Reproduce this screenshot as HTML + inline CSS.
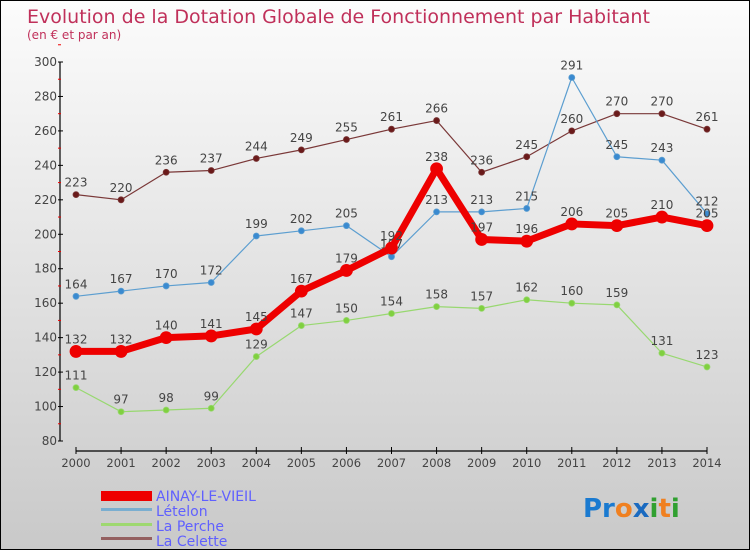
<!DOCTYPE html>
<html><head><meta charset="utf-8"><style>
body{margin:0}
#c{width:748px;height:548px;border:1px solid #000;background:linear-gradient(#fcfcfc,#c9c9c9);position:relative;font-family:"DejaVu Sans","Liberation Sans",sans-serif;overflow:hidden}
svg text{font-family:"DejaVu Sans","Liberation Sans",sans-serif}
</style></head><body>
<div id="c">
<svg id="s" width="748" height="548">
<text x="26" y="22" font-size="19" fill="#c0305a">Evolution de la Dotation Globale de Fonctionnement par Habitant</text>
<text x="26" y="38" font-size="12" fill="#c0305a">(en € et par an)</text>
<g id="axes"></g><g id="series"></g>
<g>
<rect x="100" y="490" width="51" height="10" fill="#e00"/>
<text x="155" y="500" font-size="14" fill="#6060ff">AINAY-LE-VIEIL</text>
<rect x="100" y="507" width="51" height="3" fill="#7aaed0"/>
<text x="155" y="515" font-size="14" fill="#6060ff">Lételon</text>
<rect x="100" y="522" width="51" height="3" fill="#9ed870"/>
<text x="155" y="530" font-size="14" fill="#6060ff">La Perche</text>
<rect x="100" y="536" width="51" height="3" fill="#946060"/>
<text x="155" y="545" font-size="14" fill="#6060ff">La Celette</text>
</g>
<text x="582" y="516" font-size="26" font-weight="bold"><tspan fill="#1a7ad0">Pr</tspan><tspan fill="#f08020">o</tspan><tspan fill="#1a6ac0">x</tspan><tspan fill="#30a030">i</tspan><tspan fill="#f08020">t</tspan><tspan fill="#30a030">i</tspan></text>
</svg></div>
<script>
const years=[2000,2001,2002,2003,2004,2005,2006,2007,2008,2009,2010,2011,2012,2013,2014];
const yTicks=[80,100,120,140,160,180,200,220,240,260,280,300];
const ainay=[132,132,140,141,145,167,179,192,238,197,196,206,205,210,205];
const letelon=[164,167,170,172,199,202,205,187,213,213,215,291,245,243,212];
const perche=[111,97,98,99,129,147,150,154,158,157,162,160,159,131,123];
const celette=[223,220,236,237,244,249,255,261,266,236,245,260,270,270,261];
const NS="http://www.w3.org/2000/svg";
function X(i){return 75+i*(706-75)/(years.length-1);}
function Y(v){return 440-(v-80)*(440-61)/220;}
function mk(t,a,p){const e=document.createElementNS(NS,t);for(const k in a)e.setAttribute(k,a[k]);p.appendChild(e);return e;}
const ax=document.getElementById('axes');
const ya=mk('line',{x1:59,y1:61,x2:59,y2:440,stroke:'#000','stroke-width':1.2},ax);


yTicks.forEach(v=>{
 mk('line',{x1:57,y1:Y(v),x2:62,y2:Y(v),stroke:'#000'},ax);
 mk('line',{x1:57,y1:Y(v+10),x2:60,y2:Y(v+10),stroke:'#e00'},ax);
 const t=mk('text',{x:56,y:Y(v)+4,'font-size':12,fill:'#444','text-anchor':'end'},ax);
 t.textContent=v;
 
 
});
const xa=mk('line',{x1:75,y1:450,x2:706,y2:450,stroke:'#000','stroke-width':1.2},ax);


years.forEach((y,i)=>{
 mk('line',{x1:X(i),y1:446,x2:X(i),y2:453,stroke:'#000'},ax);
 const t=mk('text',{x:X(i),y:466,'font-size':11.5,fill:'#444','text-anchor':'middle'},ax);
 t.textContent=y;
 
 
});
const sg=document.getElementById('series');
function draw(data,name,color,dot,w,r,below){
 const g=mk('g',{},sg);
 
 
 const l=mk('polyline',{points:data.map((v,i)=>X(i)+','+Y(v)).join(' '),fill:'none',stroke:color,'stroke-width':w,'stroke-linejoin':'round'},g);
 
 
 data.forEach((v,i)=>{
  const c=mk('circle',{cx:X(i),cy:Y(v),r:r,fill:dot,stroke:color,'stroke-width':0.8},g);
  
  
  const t=mk('text',{x:X(i),y:Y(v)+(below?18:-8),'font-size':12,fill:'#444','text-anchor':'middle'},g);
  t.textContent=v;
  
  
 });
}
draw(celette,'la-celette','#7a3838','#6a1a1a',1.2,3);
draw(perche,'la-perche','#98d870','#80d040',1.2,3);
draw(letelon,'letelon','#5c9ed0','#3a8ad0',1.2,3);
draw(ainay,'ainay-le-vieil','#ee0000','#ee0000',7,6);
</script>
</body></html>
